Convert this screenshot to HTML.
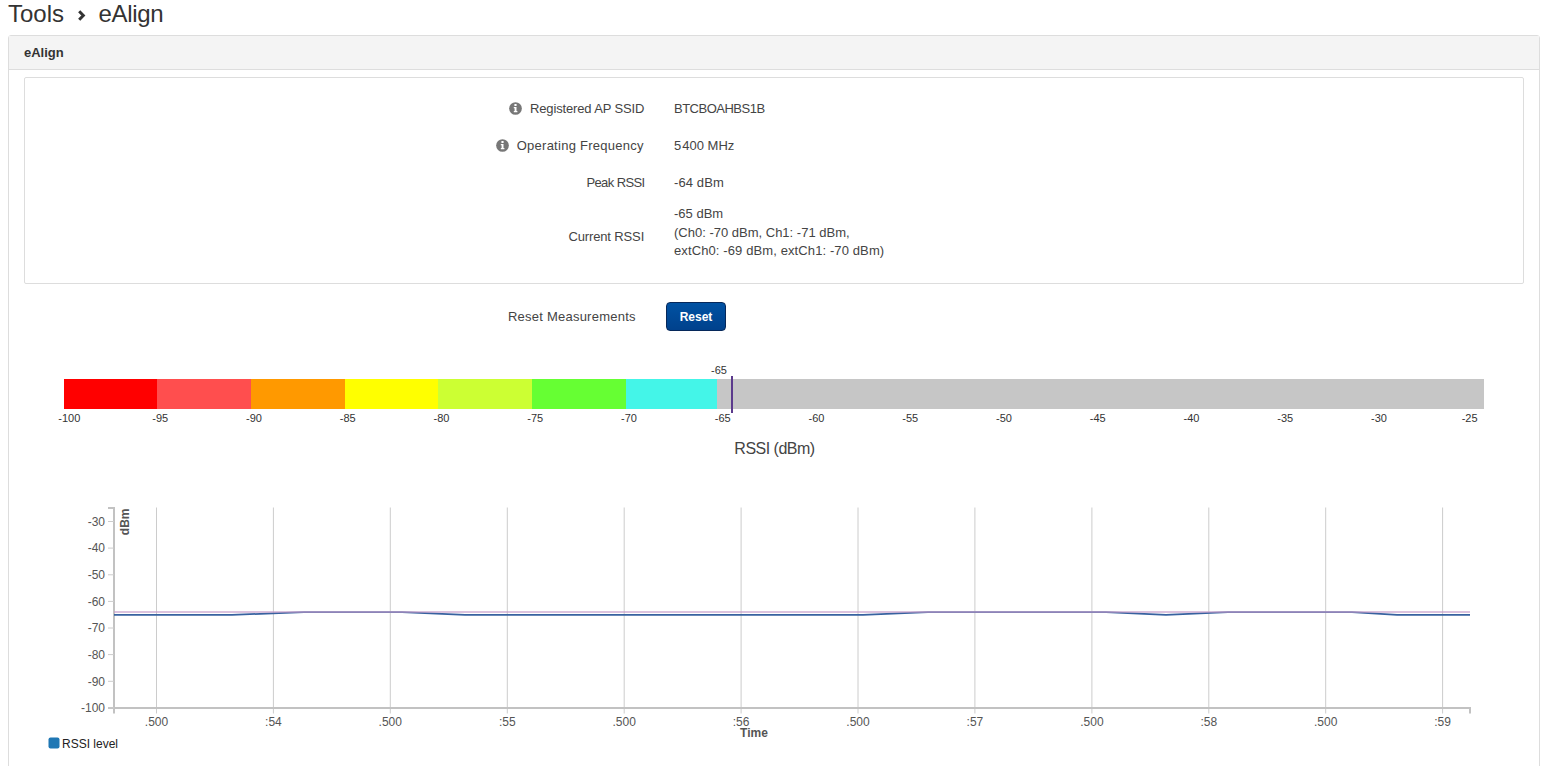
<!DOCTYPE html>
<html><head><meta charset="utf-8">
<style>
*{margin:0;padding:0;box-sizing:border-box}
html,body{width:1549px;height:766px;overflow:hidden;background:#fff}
body{font-family:"Liberation Sans",sans-serif;color:#333;position:relative}
.a{position:absolute;white-space:nowrap}
#title{left:8px;top:0px;font-size:24px;color:#333;line-height:28px}
#panel{left:8px;top:35px;width:1532px;height:760px;border:1px solid #ddd;border-radius:3px}
#phead{left:9px;top:36px;width:1530px;height:34px;background:#f4f4f4;border-bottom:1px solid #ddd}
#phead span{position:absolute;left:15px;top:9px;font-weight:bold;font-size:13px;color:#333}
#inner{left:24px;top:77px;width:1500px;height:207px;border:1px solid #ddd;border-radius:2px}
.lbl{font-size:13px;color:#444;text-align:right;line-height:16px}
.val{font-size:13px;color:#444;line-height:16px}
.info{width:13px;height:13px;border-radius:50%;background:#777;color:#fff;font-weight:bold;font-size:10px;line-height:13px;text-align:center;font-family:"Liberation Serif",serif}
#btn{left:666px;top:302px;width:60px;height:29px;border:1px solid #06285a;border-radius:4px;background:linear-gradient(#0052a3,#00418c);color:#fff;font-weight:bold;font-size:12px;text-align:center;line-height:27px;padding-top:1px}
.seg{position:absolute;top:379px;height:30px}
.tk{font-size:11px;color:#333;line-height:13px}
</style></head><body>
<div class="a" id="title">Tools</div>
<div class="a" id="title" style="left:98.5px;letter-spacing:-0.3px">eAlign</div>
<svg class="a" style="left:76px;top:9px" width="12" height="14"><polyline points="3.2,2.3 7.3,6.5 3.2,10.7" fill="none" stroke="#333" stroke-width="3" stroke-linejoin="miter"/></svg>
<div class="a" id="panel"></div>
<div class="a" id="phead"><span>eAlign</span></div>
<div class="a" id="inner"></div>
<svg class="a" style="left:509px;top:102px" width="13" height="13"><circle cx="6.5" cy="6.5" r="6.35" fill="#777"/><rect x="5.4" y="2.0" width="2.2" height="2.0" rx="0.5" fill="#fff"/><path d="M4.8,5.0 H7.5 V8.9 H8.4 V10.2 H4.8 V8.9 H5.6 V6.3 H4.8 Z" fill="#fff"/></svg>
<div class="a lbl" style="right:904.85px;top:101px;letter-spacing:-0.15px">Registered AP SSID</div>
<div class="a val" style="left:674px;top:101px;letter-spacing:-0.5px">BTCBOAHBS1B</div>
<svg class="a" style="left:496px;top:139px" width="13" height="13"><circle cx="6.5" cy="6.5" r="6.35" fill="#777"/><rect x="5.4" y="2.0" width="2.2" height="2.0" rx="0.5" fill="#fff"/><path d="M4.8,5.0 H7.5 V8.9 H8.4 V10.2 H4.8 V8.9 H5.6 V6.3 H4.8 Z" fill="#fff"/></svg>
<div class="a lbl" style="right:905.26px;top:138px;letter-spacing:0.26px">Operating Frequency</div>
<div class="a val" style="left:674px;top:138px;letter-spacing:0px">5&#8202;400 MHz</div>
<div class="a lbl" style="right:904.4px;top:175px;letter-spacing:-0.6px">Peak RSSI</div>
<div class="a val" style="left:674px;top:175px;letter-spacing:0.1px">-64 dBm</div>
<div class="a lbl" style="right:904.87px;top:229px;letter-spacing:-0.13px">Current RSSI</div>
<div class="a val" style="left:674px;top:205px;line-height:18.5px">-65 dBm<br>(Ch0: -70 dBm, Ch1: -71 dBm,<br><span style="letter-spacing:0.11px">extCh0: -69 dBm, extCh1: -70 dBm)</span></div>
<div class="a lbl" style="right:913.24px;top:309px;letter-spacing:0.24px">Reset Measurements</div>
<div class="a" id="btn">Reset</div>
<div class="seg" style="left:64px;width:1420px;background:#c6c6c6"></div>
<div class="seg" style="left:64px;width:93px;background:#ff0000"></div>
<div class="seg" style="left:157px;width:94px;background:#ff4e4e"></div>
<div class="seg" style="left:251px;width:94px;background:#ff9900"></div>
<div class="seg" style="left:345px;width:93px;background:#ffff00"></div>
<div class="seg" style="left:438px;width:94px;background:#ccff33"></div>
<div class="seg" style="left:532px;width:94px;background:#66ff33"></div>
<div class="seg" style="left:626px;width:91px;background:#44f5e8"></div>
<div class="a" style="left:731px;top:376px;width:2px;height:37px;background:#5b3a8c"></div>
<div class="a tk" style="left:719px;top:364px;transform:translateX(-50%)">-65</div>
<div class="a tk" style="left:69.3px;top:412px;transform:translateX(-50%)">-100</div>
<div class="a tk" style="left:160.2px;top:412px;transform:translateX(-50%)">-95</div>
<div class="a tk" style="left:254.0px;top:412px;transform:translateX(-50%)">-90</div>
<div class="a tk" style="left:347.7px;top:412px;transform:translateX(-50%)">-85</div>
<div class="a tk" style="left:441.5px;top:412px;transform:translateX(-50%)">-80</div>
<div class="a tk" style="left:535.2px;top:412px;transform:translateX(-50%)">-75</div>
<div class="a tk" style="left:629.0px;top:412px;transform:translateX(-50%)">-70</div>
<div class="a tk" style="left:722.7px;top:412px;transform:translateX(-50%)">-65</div>
<div class="a tk" style="left:816.5px;top:412px;transform:translateX(-50%)">-60</div>
<div class="a tk" style="left:910.2px;top:412px;transform:translateX(-50%)">-55</div>
<div class="a tk" style="left:1004.0px;top:412px;transform:translateX(-50%)">-50</div>
<div class="a tk" style="left:1097.7px;top:412px;transform:translateX(-50%)">-45</div>
<div class="a tk" style="left:1191.5px;top:412px;transform:translateX(-50%)">-40</div>
<div class="a tk" style="left:1285.2px;top:412px;transform:translateX(-50%)">-35</div>
<div class="a tk" style="left:1379.0px;top:412px;transform:translateX(-50%)">-30</div>
<div class="a tk" style="left:1469.6px;top:412px;transform:translateX(-50%)">-25</div>
<div class="a" style="left:774.5px;top:438.5px;font-size:16px;line-height:19px;color:#444;letter-spacing:-0.5px;transform:translateX(-50%)">RSSI (dBm)</div>
<svg class="a" style="left:0;top:0" width="1549" height="766" font-family="Liberation Sans, sans-serif"><line x1="156.5" y1="507.5" x2="156.5" y2="713.5" stroke="#ccc" stroke-width="1"/><line x1="273.4" y1="507.5" x2="273.4" y2="713.5" stroke="#ccc" stroke-width="1"/><line x1="390.3" y1="507.5" x2="390.3" y2="713.5" stroke="#ccc" stroke-width="1"/><line x1="507.3" y1="507.5" x2="507.3" y2="713.5" stroke="#ccc" stroke-width="1"/><line x1="624.2" y1="507.5" x2="624.2" y2="713.5" stroke="#ccc" stroke-width="1"/><line x1="741.1" y1="507.5" x2="741.1" y2="713.5" stroke="#ccc" stroke-width="1"/><line x1="858.0" y1="507.5" x2="858.0" y2="713.5" stroke="#ccc" stroke-width="1"/><line x1="974.9" y1="507.5" x2="974.9" y2="713.5" stroke="#ccc" stroke-width="1"/><line x1="1091.9" y1="507.5" x2="1091.9" y2="713.5" stroke="#ccc" stroke-width="1"/><line x1="1208.8" y1="507.5" x2="1208.8" y2="713.5" stroke="#ccc" stroke-width="1"/><line x1="1325.7" y1="507.5" x2="1325.7" y2="713.5" stroke="#ccc" stroke-width="1"/><line x1="1442.6" y1="507.5" x2="1442.6" y2="713.5" stroke="#ccc" stroke-width="1"/><line x1="114" y1="507" x2="114" y2="713.5" stroke="#c2c2c2" stroke-width="2"/><line x1="108" y1="508" x2="114" y2="508" stroke="#c2c2c2" stroke-width="2"/><line x1="108" y1="708" x2="1470" y2="708" stroke="#c2c2c2" stroke-width="2"/><line x1="1470" y1="707" x2="1470" y2="713.5" stroke="#c2c2c2" stroke-width="2"/><line x1="108" y1="521.5" x2="114" y2="521.5" stroke="#ccc" stroke-width="1"/><text x="105" y="525.8" text-anchor="end" font-size="12" fill="#555">-30</text><line x1="108" y1="548.1" x2="114" y2="548.1" stroke="#ccc" stroke-width="1"/><text x="105" y="552.4" text-anchor="end" font-size="12" fill="#555">-40</text><line x1="108" y1="574.8" x2="114" y2="574.8" stroke="#ccc" stroke-width="1"/><text x="105" y="579.0" text-anchor="end" font-size="12" fill="#555">-50</text><line x1="108" y1="601.4" x2="114" y2="601.4" stroke="#ccc" stroke-width="1"/><text x="105" y="605.7" text-anchor="end" font-size="12" fill="#555">-60</text><line x1="108" y1="628.0" x2="114" y2="628.0" stroke="#ccc" stroke-width="1"/><text x="105" y="632.3" text-anchor="end" font-size="12" fill="#555">-70</text><line x1="108" y1="654.6" x2="114" y2="654.6" stroke="#ccc" stroke-width="1"/><text x="105" y="658.9" text-anchor="end" font-size="12" fill="#555">-80</text><line x1="108" y1="681.3" x2="114" y2="681.3" stroke="#ccc" stroke-width="1"/><text x="105" y="685.6" text-anchor="end" font-size="12" fill="#555">-90</text><line x1="108" y1="707.9" x2="114" y2="707.9" stroke="#ccc" stroke-width="1"/><text x="105" y="712.2" text-anchor="end" font-size="12" fill="#555">-100</text><text x="156.5" y="726" text-anchor="middle" font-size="12" fill="#555">.500</text><text x="273.4" y="726" text-anchor="middle" font-size="12" fill="#555">:54</text><text x="390.3" y="726" text-anchor="middle" font-size="12" fill="#555">.500</text><text x="507.3" y="726" text-anchor="middle" font-size="12" fill="#555">:55</text><text x="624.2" y="726" text-anchor="middle" font-size="12" fill="#555">.500</text><text x="741.1" y="726" text-anchor="middle" font-size="12" fill="#555">:56</text><text x="858.0" y="726" text-anchor="middle" font-size="12" fill="#555">.500</text><text x="974.9" y="726" text-anchor="middle" font-size="12" fill="#555">:57</text><text x="1091.9" y="726" text-anchor="middle" font-size="12" fill="#555">.500</text><text x="1208.8" y="726" text-anchor="middle" font-size="12" fill="#555">:58</text><text x="1325.7" y="726" text-anchor="middle" font-size="12" fill="#555">.500</text><text x="1442.6" y="726" text-anchor="middle" font-size="12" fill="#555">:59</text><text x="754" y="737" text-anchor="middle" font-size="12" font-weight="bold" fill="#555">Time</text><text transform="translate(129,508.5) rotate(-90)" text-anchor="end" font-size="12" font-weight="bold" fill="#555">dBm</text><polyline points="114,614.84 232,614.84 304,612.18 402,612.18 465,614.84 863,614.84 928,612.18 1106,612.18 1166,614.84 1228,612.18 1352,612.18 1397,614.84 1470,614.84" fill="none" stroke="rgb(55,98,160)" stroke-width="1.7"/><line x1="114" y1="612.0" x2="1470" y2="612.0" stroke="rgb(197,155,200)" stroke-opacity="0.6" stroke-width="2"/><rect x="48.5" y="737.5" width="11" height="11" rx="2" fill="#1f77b4"/><text x="62" y="748" font-size="12" fill="#222">RSSI level</text></svg>
</body></html>
